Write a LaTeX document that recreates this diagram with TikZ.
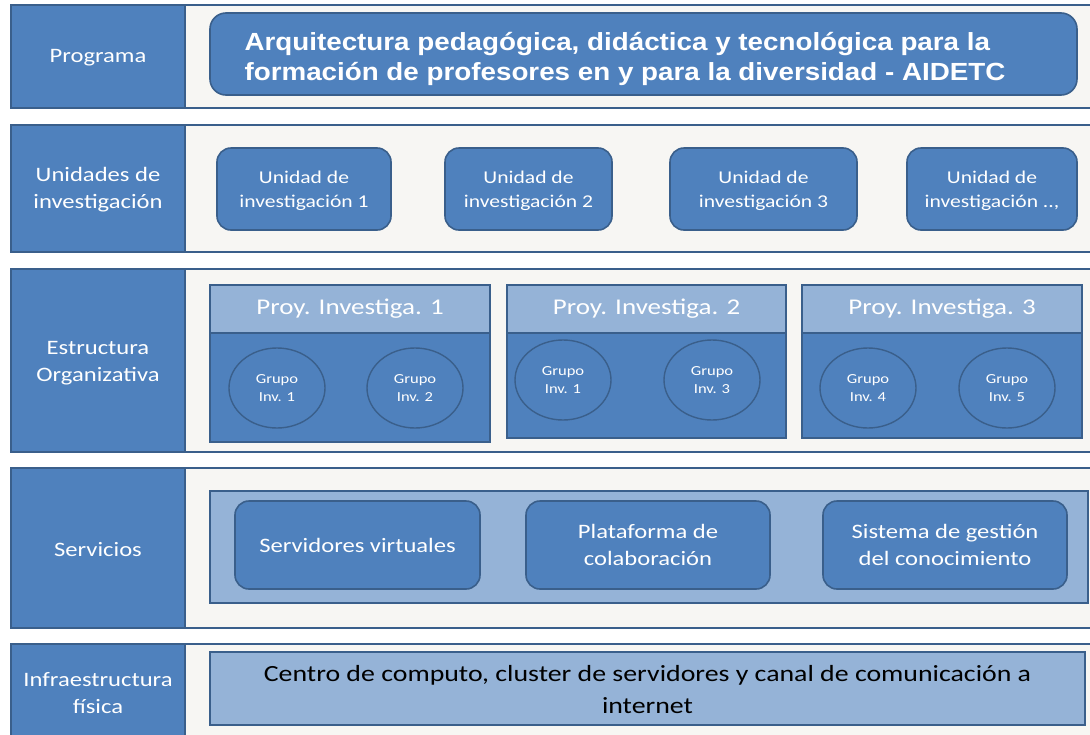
\documentclass[tikz,border=0pt]{standalone}
\usepackage{fontspec}
\setmainfont{Carlito}[FakeStretch=1.2]
\newfontfamily\titlefont{Liberation Sans}[FakeStretch=1.12]
\usetikzlibrary{shapes.geometric}
\definecolor{mid}{HTML}{4F81BD}
\definecolor{bdr}{HTML}{3A5F8B}
\definecolor{lite}{HTML}{95B3D7}
\definecolor{bgc}{HTML}{F7F6F3}
\tikzset{
  rowbg/.style={draw=bdr, fill=bgc, line width=1.6pt, inner sep=0, outer sep=0},
  lbl/.style={draw=bdr, fill=mid, line width=1.6pt, inner sep=0},
  lbltext/.style={text=white, align=center, inner sep=0, font=\fontsize{20.5}{27}\selectfont},
  rbox/.style={draw=bdr, fill=mid, line width=1.6pt, rounded corners=14pt, text=white, align=center, inner sep=0},
  sqbox/.style={draw=bdr, fill=mid, line width=1.6pt, inner sep=0},
  litebox/.style={draw=bdr, fill=lite, line width=1.6pt, inner sep=0},
  grp/.style={draw=bdr, fill=mid, line width=1.4pt, ellipse, minimum width=96pt, minimum height=80pt,
     inner sep=0, text=white, align=center, font=\fontsize{13.8}{18}\selectfont},
  unitbox/.style={rbox, font=\fontsize{18}{23.5}\selectfont},
  hdr/.style={litebox, text=white, font=\fontsize{22.5}{28}\selectfont},
  svc/.style={rbox, font=\fontsize{20.5}{27}\selectfont},
}
\begin{document}
\begin{tikzpicture}[x=1pt,y=-1pt]
\useasboundingbox (0,0) rectangle (1090,734);
\begin{scope}
\clip (0,0) rectangle (1090,734);
% rows
\node[rowbg, minimum width=1081pt, minimum height=103pt] (r1) at (551.5,56.5) {};
\node[rowbg, minimum width=1081pt, minimum height=127pt] (r2) at (551.5,188.5) {};
\node[rowbg, minimum width=1081pt, minimum height=183pt] (r3) at (551.5,360.5) {};
\node[rowbg, minimum width=1081pt, minimum height=160pt] (r4) at (551.5,548) {};
\node[rowbg, minimum width=1081pt, minimum height=100pt] (r5) at (551.5,694) {};
% labels
\node[lbl, minimum width=174pt, minimum height=103pt] (l1) at (98,56.5) {};
\node[lbl, minimum width=174pt, minimum height=127pt] (l2) at (98,188.5) {};
\node[lbl, minimum width=174pt, minimum height=183pt] (l3) at (98,360.5) {};
\node[lbl, minimum width=174pt, minimum height=160pt] (l4) at (98,548) {};
\node[lbl, minimum width=174pt, minimum height=100pt] (l5) at (98,694) {};
\end{scope}
\node[lbltext] (l1t) at (98,58) {Programa};
\node[lbltext] (l2t) at (98,190) {Unidades de\\investigación};
\node[lbltext] (l3t) at (98,363) {Estructura\\Organizativa};
\node[lbltext] (l4t) at (98,550) {Servicios};
\node[lbltext] (l5t) at (98,693) {Infraestructura\\física};
% title
\node[rbox, minimum width=867pt, minimum height=82pt, rounded corners=16pt] (title) at (643.5,54) {};
\node[text=white, font=\titlefont\bfseries\fontsize{24.8}{30}\selectfont, align=left, anchor=west] (tt) at (241,59)
  {Arquitectura pedagógica, didáctica y tecnológica para la\\formación de profesores en y para la diversidad - AIDETC};
% units
\node[unitbox, minimum width=174pt, minimum height=82pt] (u1) at (304,189) {};
\node[unitbox, minimum width=167pt, minimum height=82pt] (u2) at (528.5,189) {};
\node[unitbox, minimum width=187pt, minimum height=82pt] (u3) at (763.5,189) {};
\node[unitbox, minimum width=170pt, minimum height=82pt] (u4) at (992,189) {};
\node[unitbox, draw=none, fill=none] (u1t) at (u1) [yshift=-2pt] {Unidad de\\investigación 1};
\node[unitbox, draw=none, fill=none] (u2t) at (u2) [yshift=-2pt] {Unidad de\\investigación 2};
\node[unitbox, draw=none, fill=none] (u3t) at (u3) [yshift=-2pt] {Unidad de\\investigación 3};
\node[unitbox, draw=none, fill=none] (u4t) at (u4) [yshift=-2pt] {Unidad de\\investigación ..,};
% projects
\node[sqbox, minimum width=280pt, minimum height=157pt] (p1) at (350,363.5) {};
\node[hdr, minimum width=280pt, minimum height=48pt] (h1) at (350,309) {Proy. Investiga. 1};
\node[sqbox, minimum width=279pt, minimum height=153pt] (p2) at (646.5,361.5) {};
\node[hdr, minimum width=279pt, minimum height=48pt] (h2) at (646.5,309) {Proy. Investiga. 2};
\node[sqbox, minimum width=280pt, minimum height=153pt] (p3) at (942,361.5) {};
\node[hdr, minimum width=280pt, minimum height=48pt] (h3) at (942,309) {Proy. Investiga. 3};
\node[grp] (g11) at (277,388) {Grupo\\Inv. 1};
\node[grp] (g12) at (415,388) {Grupo\\Inv. 2};
\node[grp] (g21) at (563,380) {Grupo\\Inv. 1};
\node[grp] (g23) at (712,380) {Grupo\\Inv. 3};
\node[grp] (g34) at (868,388) {Grupo\\Inv. 4};
\node[grp] (g35) at (1007,388) {Grupo\\Inv. 5};
% services
\node[litebox, minimum width=878pt, minimum height=112pt] (sv) at (649,547) {};
\node[svc, minimum width=245pt, minimum height=88pt] (s1) at (357.5,545) {Servidores virtuales};
\node[svc, minimum width=244pt, minimum height=88pt] (s2) at (648,545) {Plataforma de\\colaboración};
\node[svc, minimum width=244pt, minimum height=88pt] (s3) at (945,545) {Sistema de gestión\\del conocimiento};
% infrastructure
\node[litebox, minimum width=875pt, minimum height=73pt] (inf) at (647.5,688.5) {};
\node[text=black, align=center, font=\fontsize{23.2}{32}\selectfont] (inft) at (647.5,690) {Centro de computo, cluster de servidores y canal de comunicación a\\internet};
\end{tikzpicture}
\end{document}
